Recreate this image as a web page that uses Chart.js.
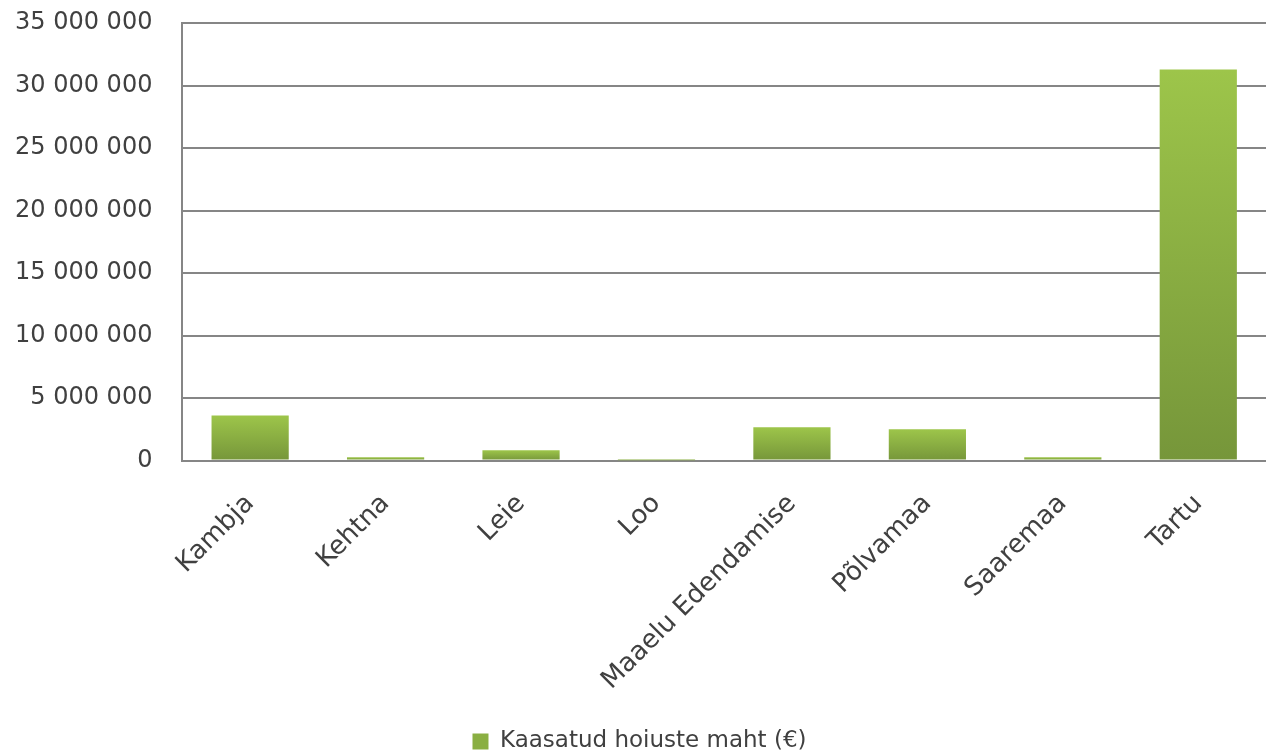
<!DOCTYPE html>
<html>
<head>
<meta charset="utf-8">
<script src="https://cdn.jsdelivr.net/npm/chart.js@4/dist/chart.umd.min.js"></script>
<style>
  html, body { margin: 0; padding: 0; background: #fff; }
  #wrap { width: 1266px; height: 751px; }
</style>
</head>
<body>
<div id="wrap"><canvas id="myChart"></canvas></div>
<script>
// data
const categories = ['Kambja', 'Kehtna', 'Leie', 'Loo', 'Maaelu Edendamise', 'Põlvamaa', 'Saaremaa', 'Tartu'];
const deposits = [3600000, 260000, 820000, 10000, 2660000, 2500000, 260000, 31280000];
const seriesName = 'Kaasatud hoiuste maht (€)';
const yTicks = [0, 5000000, 10000000, 15000000, 20000000, 25000000, 30000000, 35000000];

const FONT = 'DejaVu Sans';

function spaced(v){
    return String(v).replace(/\B(?=(\d{3})+(?!\d))/g, ' ');
}

// light green on top, darker at the base, per bar
function barFill(c){
    const chart = c.chart;
    if (!chart.chartArea || c.raw === undefined) return '#8aaf42';
    const y = chart.scales.y;
    const top = y.getPixelForValue(c.raw);
    const bottom = y.getPixelForValue(0);
    if (!isFinite(top) || bottom - top < 1) return '#8aaf42';
    const g = chart.ctx.createLinearGradient(0, top, 0, bottom);
    g.addColorStop(0, '#9dc54a');
    g.addColorStop(1, '#76963a');
    return g;
}

const ctx = document.getElementById('myChart');
const myChart = new Chart(ctx, {
    type: 'bar',
    data: {
        labels: categories,
        datasets: [{
            label: seriesName,
            data: deposits,
            backgroundColor: barFill,
            borderWidth: 0,
            categoryPercentage: 1,
            barPercentage: 0.57
        }]
    },
    options: {
        responsive: true,
        maintainAspectRatio: false,
        animation: false,
        layout: { padding: { left: 13, top: 23, right: 0, bottom: -12 } },
        plugins: {
            tooltip: { enabled: false },
            legend: {
                position: 'bottom',
                labels: {
                    font: { family: FONT, size: 23 },
                    color: '#404040',
                    boxWidth: 16,
                    boxHeight: 16,
                    padding: 6,
                    generateLabels: chart => [{
                        text: seriesName,
                        fillStyle: '#8aaf42',
                        strokeStyle: '#8aaf42',
                        fontColor: '#404040',
                        lineWidth: 0,
                        datasetIndex: 0
                    }]
                }
            }
        },
        scales: {
            x: {
                grid: { display: false, drawTicks: false },
                border: { color: '#868686', width: 2 },
                ticks: {
                    font: { family: FONT, size: 26 },
                    color: '#404040',
                    minRotation: 45,
                    maxRotation: 45,
                    autoSkip: false,
                    padding: 28
                }
            },
            y: {
                min: 0,
                max: 35000000,
                afterBuildTicks: axis => { axis.ticks = yTicks.map(v => ({ value: v })); },
                grid: { color: '#868686', lineWidth: 2, drawTicks: true, tickLength: 28, tickColor: 'rgba(0,0,0,0)' },
                border: { color: '#868686', width: 2 },
                ticks: {
                    font: { family: FONT, size: 24 },
                    color: '#404040',
                    padding: 2,
                    callback: v => spaced(v)
                }
            }
        }
    }
});
</script>
</body>
</html>
